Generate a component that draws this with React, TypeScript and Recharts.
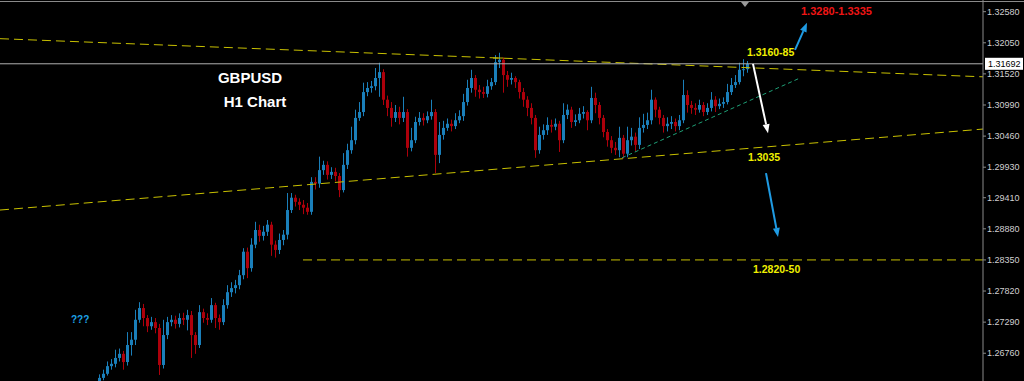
import { Bar, ComposedChart, ReferenceLine, XAxis, YAxis } from "recharts";

// GBPUSD H1 candles (open = previous close)
const firstOpen = 1.2628;
const closes = [
  1.2634, 1.2641, 1.2654, 1.2658, 1.2668, 1.2675, 1.2661, 1.269, 1.2699, 1.2733,
  1.2753, 1.2736, 1.2722, 1.2729, 1.2719, 1.2656, 1.2707, 1.2729, 1.2733, 1.2726,
  1.2736, 1.2733, 1.2741, 1.2707, 1.269, 1.2746, 1.2736, 1.2733, 1.2758, 1.2736,
  1.2729, 1.2758, 1.278, 1.2787, 1.2792, 1.2809, 1.2849, 1.2821, 1.2861, 1.2886,
  1.2876, 1.2883, 1.2895, 1.2861, 1.2852, 1.2869, 1.2878, 1.292, 1.2941, 1.2934,
  1.2929, 1.2924, 1.2917, 1.2968, 1.2965, 1.2988, 1.2997, 1.298, 1.2985, 1.2978,
  1.2954, 1.2997, 1.3022, 1.3039, 1.3077, 1.3087, 1.3121, 1.3128, 1.3131, 1.3145,
  1.3155, 1.3108, 1.3094, 1.3077, 1.3087, 1.3077, 1.3087, 1.3026, 1.3039, 1.307,
  1.3077, 1.3073, 1.308, 1.3087, 1.3014, 1.3048, 1.306, 1.3067, 1.3063, 1.3073,
  1.308, 1.3104, 1.3128, 1.3145, 1.3125, 1.3121, 1.3118, 1.3131, 1.3138, 1.3172,
  1.3176, 1.315, 1.3142, 1.3145, 1.3138, 1.3121, 1.3108, 1.3094, 1.3077, 1.3022,
  1.3048, 1.3056, 1.3065, 1.3062, 1.3067, 1.3039, 1.3082, 1.3091, 1.307, 1.3073,
  1.3084, 1.3087, 1.3073, 1.3111, 1.3099, 1.3077, 1.3053, 1.3039, 1.3026, 1.3022,
  1.3043, 1.3016, 1.3039, 1.3045, 1.3031, 1.306, 1.3065, 1.3073, 1.3108, 1.3091,
  1.3077, 1.3063, 1.3067, 1.307, 1.3063, 1.3073, 1.3116, 1.3099, 1.3094, 1.3091,
  1.3099, 1.3087, 1.3094, 1.3108, 1.3097, 1.3101, 1.3104, 1.3121, 1.3133, 1.3138,
  1.3159, 1.316, 1.3169,
];
const highs = [
  1.264, 1.2648, 1.2662, 1.2666, 1.2682, 1.2684, 1.268, 1.2712, 1.2712, 1.275,
  1.2763, 1.276, 1.2741, 1.2738, 1.2736, 1.2726, 1.2733, 1.2738, 1.2741, 1.274,
  1.2744, 1.2745, 1.275, 1.2748, 1.2712, 1.2758, 1.2752, 1.2744, 1.277, 1.2762,
  1.2742, 1.2768, 1.2792, 1.2797, 1.2801, 1.2818, 1.2855, 1.2856, 1.2872, 1.29,
  1.2895, 1.2893, 1.2903, 1.29, 1.2868, 1.288, 1.2886, 1.2949, 1.2949, 1.2946,
  1.294, 1.2937, 1.2932, 1.2976, 1.2976, 1.3011, 1.3004, 1.3003, 1.2993, 1.2992,
  1.2983, 1.3017, 1.3033, 1.3062, 1.3091, 1.3104, 1.3137, 1.3138, 1.314, 1.3162,
  1.3171, 1.316, 1.3115, 1.3104, 1.3099, 1.3096, 1.3113, 1.3092, 1.306, 1.3079,
  1.3087, 1.3085, 1.3088, 1.3108, 1.3092, 1.307, 1.3072, 1.3076, 1.3074, 1.3085,
  1.309, 1.3118, 1.3142, 1.3159, 1.315, 1.3133, 1.313, 1.3142, 1.3145, 1.3184,
  1.3188, 1.318, 1.3157, 1.3154, 1.3148, 1.3142, 1.3128, 1.3114, 1.3102, 1.3082,
  1.3062, 1.3066, 1.3078, 1.3074, 1.3076, 1.3072, 1.3102, 1.31, 1.3096, 1.3083,
  1.3094, 1.3097, 1.309, 1.313, 1.312, 1.3104, 1.3082, 1.3058, 1.3046, 1.3036,
  1.3062, 1.3048, 1.3062, 1.306, 1.3052, 1.3078, 1.3084, 1.3086, 1.3125, 1.3112,
  1.3096, 1.3082, 1.3078, 1.308, 1.3076, 1.3082, 1.3142, 1.3124, 1.3106, 1.3102,
  1.3108, 1.3104, 1.3102, 1.3121, 1.3114, 1.311, 1.3112, 1.3135, 1.3145, 1.315,
  1.3171, 1.3177, 1.3174,
];
const lows = [
  1.2626, 1.263, 1.2638, 1.2648, 1.2652, 1.2662, 1.2648, 1.2655, 1.2672, 1.269,
  1.2728, 1.2722, 1.2712, 1.2716, 1.271, 1.2639, 1.265, 1.27, 1.2722, 1.2718,
  1.272, 1.2724, 1.2715, 1.2668, 1.2675, 1.2685, 1.2728, 1.2724, 1.2728, 1.2719,
  1.2716, 1.2724, 1.2752, 1.2772, 1.2778, 1.2785, 1.2802, 1.2804, 1.2815, 1.2855,
  1.2866, 1.2868, 1.2876, 1.2842, 1.2839, 1.2845, 1.286, 1.287, 1.2915, 1.2926,
  1.292, 1.2913, 1.2912, 1.2912, 1.2955, 1.2958, 1.298, 1.2972, 1.2973, 1.2969,
  1.2942, 1.295, 1.299, 1.3016, 1.3032, 1.3072, 1.308, 1.3114, 1.312, 1.3124,
  1.3113, 1.3099, 1.308, 1.3062, 1.307, 1.3066, 1.307, 1.3011, 1.302, 1.3034,
  1.3064, 1.3064, 1.3068, 1.3074, 1.2983, 1.3, 1.304, 1.3055, 1.3054, 1.3058,
  1.3068, 1.3072, 1.3098, 1.312, 1.3113, 1.311, 1.3111, 1.3112, 1.3125, 1.3133,
  1.3162, 1.312, 1.313, 1.3134, 1.3128, 1.311, 1.3096, 1.308, 1.3066, 1.3009,
  1.3016, 1.304, 1.3048, 1.3052, 1.3056, 1.3019, 1.3034, 1.3075, 1.306, 1.3063,
  1.3068, 1.3076, 1.3056, 1.3068, 1.3085, 1.3066, 1.3044, 1.3028, 1.3017, 1.3014,
  1.301, 1.3008, 1.301, 1.303, 1.302, 1.3024, 1.3052, 1.3058, 1.3066, 1.3078,
  1.3066, 1.3052, 1.3054, 1.3058, 1.3054, 1.3056, 1.3068, 1.3086, 1.3084, 1.3082,
  1.3086, 1.308, 1.3082, 1.3088, 1.3087, 1.3092, 1.3094, 1.31, 1.3116, 1.3128,
  1.3134, 1.3148, 1.3154,
];

const priceTicks = [
  1.3258, 1.3205, 1.3152, 1.3099, 1.3046, 1.2993, 1.2941, 1.2888, 1.2835, 1.2782,
  1.2729, 1.2676,
];
const lastPrice = 1.31692;

// hand-drawn lines: [barIndex, price] pairs
const upperTrend = [[-25, 1.3212], [220.75, 1.3147]];
const lowerTrend = [[-25, 1.292], [220.75, 1.3058]];
const supportLevel = [[50.75, 1.2835], [220.75, 1.2835]];
const peakMark = [[98.25, 1.3179], [100.75, 1.3179]];
const greenTrend = [[130.5, 1.3009], [175, 1.3145]];
const arrowUp = [[173.75, 1.3193], [176.75, 1.3239]];
const arrowWhite = [[163.25, 1.3169], [167, 1.3051]];
const arrowDown = [[166.5, 1.2983], [169.5, 1.2874]];

const BULL = "#1a7fba";
const BEAR = "#ad000b";
const YELLOW = "#c8c000";

const data = closes.map((c, i) => {
  const o = i === 0 ? firstOpen : closes[i - 1];
  return { i, o, c, h: highs[i], l: lows[i], range: [lows[i], highs[i]] };
});

const Candle = (props: any) => {
  const { x, y, width, height, payload } = props;
  const { o, h, l, c } = payload;
  const color = c >= o ? BULL : BEAR;
  const k = height / (h - l);
  const top = y + (h - Math.max(o, c)) * k;
  const bot = y + (h - Math.min(o, c)) * k;
  const left = Math.round(x);
  return (
    <g>
      <rect x={left + 1} y={y} width={1} height={height} fill={color} />
      <rect x={left} y={top} width={width} height={Math.max(1, bot - top)} fill={color} />
    </g>
  );
};

const arrowShape = (color: string) => (p: any) => {
  const { x1, y1, x2, y2 } = p;
  const a = Math.atan2(y2 - y1, x2 - x1);
  const len = 9;
  const w = 3.5;
  const bx = x2 - len * Math.cos(a);
  const by = y2 - len * Math.sin(a);
  const px = -Math.sin(a) * w;
  const py = Math.cos(a) * w;
  return (
    <g>
      <line x1={x1} y1={y1} x2={bx} y2={by} stroke={color} strokeWidth={2} />
      <polygon points={`${x2},${y2} ${bx + px},${by + py} ${bx - px},${by - py}`} fill={color} />
    </g>
  );
};

const seg = (pts: number[][]) => pts.map(([x, y]) => ({ x, y }));

const PriceTag = (props: any) => {
  const { viewBox } = props;
  const x = viewBox.x + viewBox.width + 2;
  const y = viewBox.y;
  return (
    <g>
      <rect x={x} y={y - 6} width={38} height={12} fill="#ffffff" />
      <text x={x + 3} y={y + 3.5} fontSize={9} fontFamily="Liberation Sans, Arial" fill="#000">
        {lastPrice.toFixed(5)}
      </text>
    </g>
  );
};

const label = (extra: any): any => ({
  position: "absolute",
  fontFamily: "Liberation Sans, Arial, sans-serif",
  fontWeight: 700,
  lineHeight: 1,
  whiteSpace: "nowrap",
  ...extra,
});

export default function App() {
  return (
    <div
      style={{
        position: "absolute",
        left: 0,
        top: 0,
        width: 1024,
        height: 381,
        background: "#000",
        overflow: "hidden",
      }}
    >
      <ComposedChart
        width={1024}
        height={381}
        data={data}
        margin={{ top: 0, right: 0, bottom: 0, left: 0 }}
      >
        <XAxis dataKey="i" type="number" domain={[-25, 220.75]} hide allowDataOverflow />
        <YAxis
          orientation="right"
          type="number"
          width={41}
          domain={[1.26287, 1.32779]}
          allowDataOverflow
          ticks={priceTicks}
          interval={0}
          tickFormatter={(v: number) => v.toFixed(5)}
          tick={{ fill: "#d0d0d0", fontSize: 9, fontFamily: "Liberation Sans, Arial" }}
          tickSize={3}
          tickMargin={1}
          stroke="#8a8a8a"
        />
        <ReferenceLine
          segment={seg(upperTrend)}
          stroke={YELLOW}
          strokeDasharray="9 5"
          ifOverflow="visible"
        />
        <ReferenceLine
          segment={seg(lowerTrend)}
          stroke={YELLOW}
          strokeDasharray="9 5"
          ifOverflow="visible"
        />
        <ReferenceLine
          segment={seg(supportLevel)}
          stroke={YELLOW}
          strokeDasharray="9 5"
          ifOverflow="visible"
        />
        <ReferenceLine segment={seg(peakMark)} stroke={YELLOW} ifOverflow="visible" />
        <ReferenceLine
          segment={seg(greenTrend)}
          stroke="#1fa077"
          strokeDasharray="4 3"
          ifOverflow="visible"
        />
        <ReferenceLine
          y={lastPrice}
          stroke="#b0b0b0"
          strokeWidth={1}
          ifOverflow="visible"
          label={<PriceTag />}
        />
        <Bar
          dataKey="range"
          barSize={3}
          shape={Candle}
          isAnimationActive={false}
        />
        <ReferenceLine segment={seg(arrowUp)} shape={arrowShape("#1f9be3")} ifOverflow="visible" />
        <ReferenceLine segment={seg(arrowWhite)} shape={arrowShape("#ffffff")} ifOverflow="visible" />
        <ReferenceLine segment={seg(arrowDown)} shape={arrowShape("#1f9be3")} ifOverflow="visible" />
      </ComposedChart>

      <div style={{ position: "absolute", left: 0, top: 1, width: 1024, height: 1, background: "#8a8a8a" }} />
      <div
        style={{
          position: "absolute",
          left: 741,
          top: 2,
          width: 0,
          height: 0,
          borderLeft: "4px solid transparent",
          borderRight: "4px solid transparent",
          borderTop: "5px solid #9a9a9a",
        }}
      />

      <div style={label({ left: 250, top: 70, fontSize: 15, color: "#fff", transform: "translateX(-50%)" })}>
        GBPUSD
      </div>
      <div style={label({ left: 255, top: 94, fontSize: 15, color: "#fff", transform: "translateX(-50%)" })}>
        H1 Chart
      </div>
      <div style={label({ left: 71, top: 315, fontSize: 10, color: "#1ea3e8" })}>???</div>
      <div style={label({ left: 801, top: 6, fontSize: 11, color: "#ee1515" })}>1.3280-1.3335</div>
      <div style={label({ left: 747, top: 47, fontSize: 10.5, color: "#f0f000" })}>1.3160-85</div>
      <div style={label({ left: 748, top: 152, fontSize: 10.5, color: "#f0f000" })}>1.3035</div>
      <div style={label({ left: 753, top: 264, fontSize: 10.5, color: "#f0f000" })}>1.2820-50</div>
    </div>
  );
}
